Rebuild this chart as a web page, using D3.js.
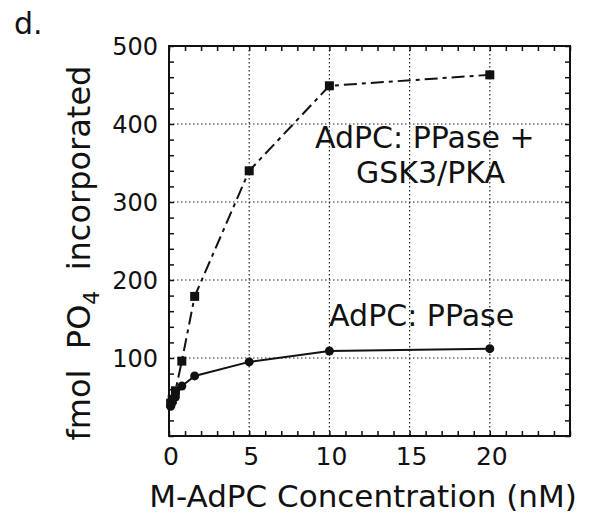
<!DOCTYPE html>
<html>
<head>
<meta charset="utf-8">
<script src="https://cdn.jsdelivr.net/npm/d3@7"></script>
<style>
  body { margin: 0; background: #fff; }
  text { font-family: "DejaVu Sans", Verdana, sans-serif; fill: #111; }
</style>
</head>
<body>
<div id="chart"></div>
<script>
// concentrations (nM)
var concentrations = [0.1, 0.2, 0.4, 0.8, 1.6, 5, 10, 20];
// fmol PO4 incorporated
var ppaseKinase = [42, 47, 58, 96, 179, 340, 449, 463];
var ppaseOnly = [38, 43, 50, 64, 77, 95, 109, 112];
var xTicks = [0, 5, 10, 15, 20];
var yTicks = [100, 200, 300, 400, 500];

var margin = { top: 46, right: 24, bottom: 84, left: 169 },
    width = 594 - margin.left - margin.right,
    height = 520 - margin.top - margin.bottom;

var svgRoot = d3.select("#chart").append("svg")
    .attr("width", 594)
    .attr("height", 520);

var svg = svgRoot.append("g")
    .attr("transform", "translate(" + margin.left + "," + margin.top + ")");

var x = d3.scaleLinear().domain([0, 25]).range([0, width]);
var y = d3.scaleLinear().domain([0, 500]).range([height, 0]);

// dotted grid
svg.selectAll(".vgrid")
    .data(xTicks.slice(1))
  .enter().append("line")
    .attr("x1", function(d) { return x(d); })
    .attr("x2", function(d) { return x(d); })
    .attr("y1", 0).attr("y2", height)
    .attr("stroke", "#222").attr("stroke-width", 1.2)
    .attr("stroke-dasharray", "1.5,2.5");

svg.selectAll(".hgrid")
    .data(yTicks.slice(0, -1))
  .enter().append("line")
    .attr("x1", 0).attr("x2", width)
    .attr("y1", function(d) { return y(d); })
    .attr("y2", function(d) { return y(d); })
    .attr("stroke", "#222").attr("stroke-width", 1.2)
    .attr("stroke-dasharray", "1.5,2.5");

// minor ticks, pointing inwards on all four sides
var minorX = d3.range(0, 26, 1), minorY = d3.range(0, 501, 20);
function ticks(g, axis, vals) {
  g.call(axis.tickValues(vals).tickSize(-5).tickFormat(""));
  g.select(".domain").remove();
  g.selectAll("line").attr("stroke", "#111").attr("stroke-width", 1.5);
}
svg.append("g").call(ticks, d3.axisTop(x), minorX);
svg.append("g").call(ticks, d3.axisLeft(y), minorY);
svg.append("g").attr("transform", "translate(0," + height + ")")
    .call(ticks, d3.axisBottom(x), minorX);
svg.append("g").attr("transform", "translate(" + width + ",0)")
    .call(ticks, d3.axisRight(y), minorY);

// frame
svg.append("rect")
    .attr("width", width).attr("height", height)
    .attr("fill", "none").attr("stroke", "#111").attr("stroke-width", 2);

// tick labels
svg.selectAll(".xlab")
    .data(xTicks)
  .enter().append("text")
    .attr("x", function(d) { return x(d) + 2; })
    .attr("y", height + 29)
    .attr("text-anchor", "middle")
    .style("font-size", "25px")
    .text(function(d) { return d; });

svg.selectAll(".ylab")
    .data(yTicks)
  .enter().append("text")
    .attr("x", -11)
    .attr("y", function(d) { return y(d) + 9; })
    .attr("text-anchor", "end")
    .style("font-size", "24px")
    .text(function(d) { return d; });

// lines
var dataA = concentrations.map(function(c, i) { return { x: c, y: ppaseKinase[i] }; });
var dataB = concentrations.map(function(c, i) { return { x: c, y: ppaseOnly[i] }; });

var line = d3.line()
    .x(function(d) { return x(d.x); })
    .y(function(d) { return y(d.y); });

svg.append("path")
    .datum(dataA)
    .attr("d", line)
    .attr("fill", "none").attr("stroke", "#111").attr("stroke-width", 2)
    .attr("stroke-dasharray", "13,5,4,5");

svg.append("path")
    .datum(dataB)
    .attr("d", line)
    .attr("fill", "none").attr("stroke", "#111").attr("stroke-width", 2);

svg.selectAll(".sq")
    .data(dataA)
  .enter().append("rect")
    .attr("x", function(d) { return x(d.x) - 4.5; })
    .attr("y", function(d) { return y(d.y) - 4.5; })
    .attr("width", 9).attr("height", 9)
    .attr("fill", "#111");

svg.selectAll(".dot")
    .data(dataB)
  .enter().append("circle")
    .attr("cx", function(d) { return x(d.x); })
    .attr("cy", function(d) { return y(d.y); })
    .attr("r", 4.5)
    .attr("fill", "#111");

// annotations
svg.append("text")
    .attr("x", x(15.95)).attr("y", y(369))
    .attr("text-anchor", "middle")
    .style("font-size", "30px")
    .text("AdPC: PPase +");
svg.append("text")
    .attr("x", x(16.3)).attr("y", y(324))
    .attr("text-anchor", "middle")
    .style("font-size", "30px")
    .text("GSK3/PKA");
svg.append("text")
    .attr("x", x(15.75)).attr("y", y(141))
    .attr("text-anchor", "middle")
    .style("font-size", "30px")
    .text("AdPC: PPase");

// axis titles
svgRoot.append("text")
    .attr("x", 363)
    .attr("y", 507)
    .attr("text-anchor", "middle")
    .style("font-size", "31px")
    .text("M-AdPC Concentration (nM)");

var yt = svgRoot.append("text")
    .attr("transform", "translate(90,253) rotate(-90)")
    .attr("text-anchor", "middle")
    .style("font-size", "32px")
    .attr("xml:space", "preserve");
yt.append("tspan").text("fmol  PO");
yt.append("tspan").attr("dy", 9).style("font-size", "22px").text("4");
yt.append("tspan").attr("dy", -9).text("  incorporated");

svgRoot.append("text")
    .attr("x", 14).attr("y", 34)
    .style("font-size", "30px")
    .text("d.");
</script>
</body>
</html>
